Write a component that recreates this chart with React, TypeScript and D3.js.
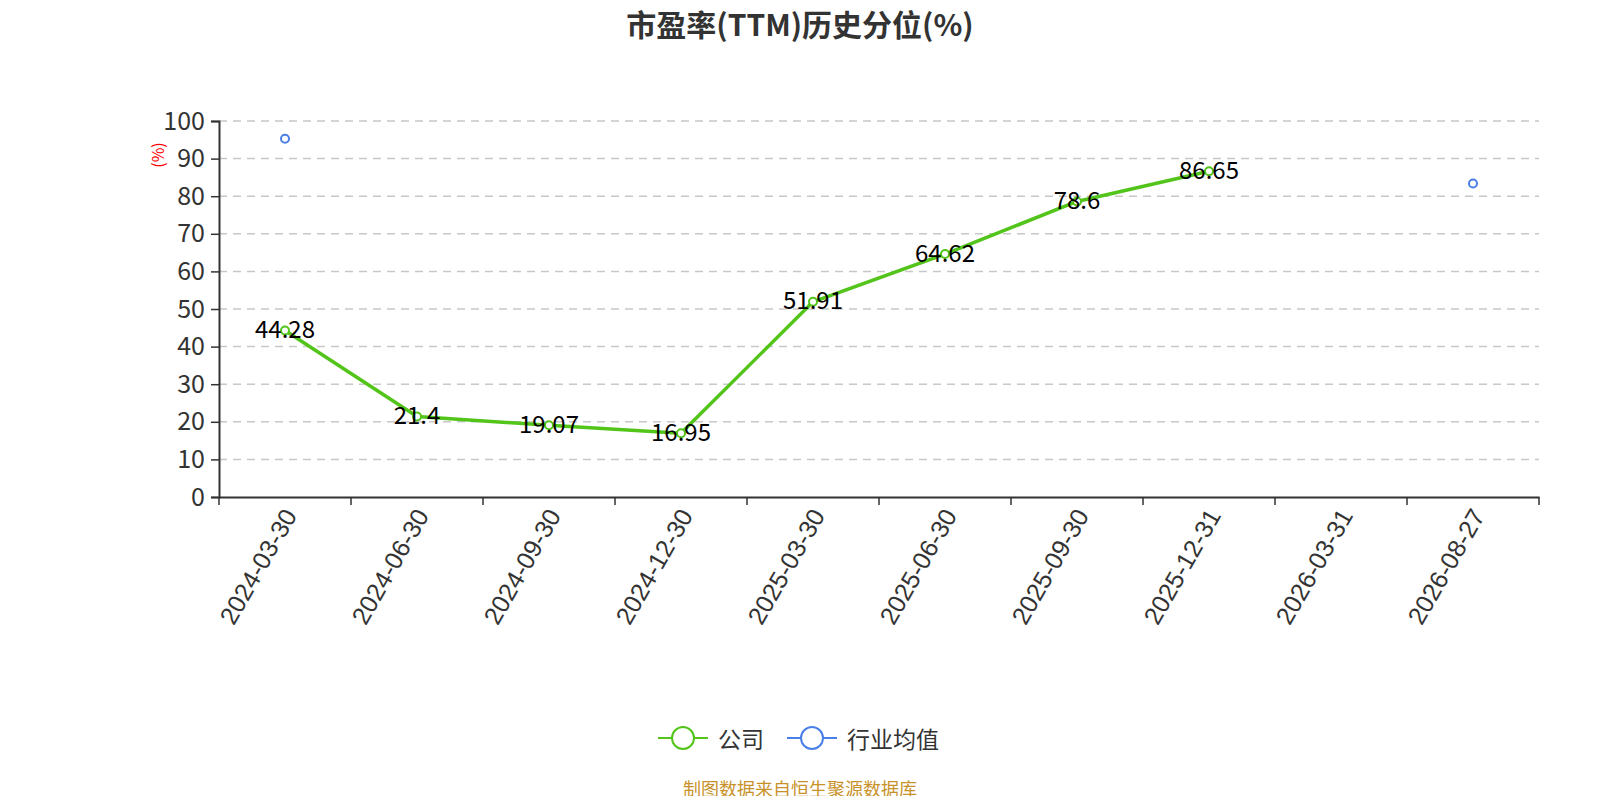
import { useEffect, useRef } from "react";
import * as d3 from "d3";

const categories = [
  "2024-03-30",
  "2024-06-30",
  "2024-09-30",
  "2024-12-30",
  "2025-03-30",
  "2025-06-30",
  "2025-09-30",
  "2025-12-31",
  "2026-03-31",
  "2026-08-27",
];
const companyValues: (number | null)[] = [44.28, 21.4, 19.07, 16.95, 51.91, 64.62, 78.6, 86.65, null, null];
const industryValues: (number | null)[] = [95.3, null, null, null, null, null, null, null, null, 83.4];
const yTicks = [0, 10, 20, 30, 40, 50, 60, 70, 80, 90, 100];

const GREEN = "#52c41a";
const BLUE = "#4a7fe8";
const FONT = "'Noto Sans CJK SC', 'Noto Sans', sans-serif";

export default function App() {
  const svgRef = useRef<SVGSVGElement>(null);

  useEffect(() => {
    if (!svgRef.current) return;
    const root = d3.select(svgRef.current);
    root.selectAll("*").remove();

    const width = 1600;
    const height = 800;
    const margin = { top: 121, right: 61, bottom: 303, left: 219 };
    const innerW = width - margin.left - margin.right;
    const innerH = height - margin.top - margin.bottom;

    root.attr("width", width).attr("height", height).style("font-family", FONT);

    // Title
    root
      .append("text")
      .attr("x", 800)
      .attr("y", 23)
      .attr("text-anchor", "middle")
      .attr("dominant-baseline", "central")
      .style("font-size", "30px")
      .style("font-weight", "bold")
      .attr("fill", "#333")
      .text("市盈率(TTM)历史分位(%)");

    const g = root.append("g").attr("transform", `translate(${margin.left},${margin.top})`);

    const x = d3.scaleBand().domain(categories).range([0, innerW]);
    const y = d3.scaleLinear().domain([0, 100]).range([innerH, 0]);
    const cx = (c: string) => (x(c) ?? 0) + x.bandwidth() / 2;

    // Grid lines
    g.append("g")
      .selectAll("line")
      .data(yTicks.filter((t) => t > 0))
      .enter()
      .append("line")
      .attr("x1", 0)
      .attr("x2", innerW)
      .attr("y1", (d) => y(d))
      .attr("y2", (d) => y(d))
      .attr("stroke", "#c8c8c8")
      .attr("stroke-width", 1.5)
      .attr("stroke-dasharray", "8,6");

    // Y axis
    const yAxis = g
      .append("g")
      .call(d3.axisLeft(y).tickValues(yTicks).tickSize(8).tickPadding(6).tickFormat(d3.format("d")));
    yAxis.select(".domain").attr("stroke", "#333").attr("stroke-width", 2);
    yAxis.selectAll(".tick line").attr("stroke", "#333").attr("stroke-width", 1.5);
    yAxis
      .selectAll(".tick text")
      .attr("fill", "#333")
      .style("font-size", "25px")
      .style("font-family", FONT);

    // Y axis name
    g.append("text")
      .attr("transform", `translate(${157 - margin.left},${155 - margin.top}) rotate(-90)`)
      .attr("text-anchor", "middle")
      .attr("dominant-baseline", "central")
      .attr("fill", "red")
      .style("font-size", "16px")
      .text("(%)");

    // X axis
    const xAxis = g
      .append("g")
      .attr("transform", `translate(0,${innerH})`)
      .call(d3.axisBottom(x).tickSize(0).tickFormat(() => ""));
    xAxis.select(".domain").attr("stroke", "#333").attr("stroke-width", 2);
    xAxis.selectAll(".tick").remove();

    // boundary ticks
    const boundaries = d3.range(categories.length + 1).map((i) => i * x.step());
    xAxis
      .selectAll("line.bt")
      .data(boundaries)
      .enter()
      .append("line")
      .attr("class", "bt")
      .attr("x1", (d) => d)
      .attr("x2", (d) => d)
      .attr("y1", 0)
      .attr("y2", 8)
      .attr("stroke", "#333")
      .attr("stroke-width", 1.5);

    xAxis
      .selectAll("text.xl")
      .data(categories)
      .enter()
      .append("text")
      .attr("class", "xl")
      .attr("transform", (d) => `translate(${cx(d) + 5},${14}) rotate(-60)`)
      .attr("text-anchor", "end")
      .attr("dominant-baseline", "central")
      .attr("fill", "#333")
      .style("font-size", "25px")
      .text((d) => d);

    // Company line
    const pts = categories
      .map((c, i) => ({ c, v: companyValues[i] }))
      .filter((d) => d.v !== null) as { c: string; v: number }[];
    const line = d3
      .line<{ c: string; v: number }>()
      .x((d) => cx(d.c))
      .y((d) => y(d.v));
    g.append("path")
      .datum(pts)
      .attr("d", line)
      .attr("fill", "none")
      .attr("stroke", GREEN)
      .attr("stroke-width", 3.5)
      .attr("stroke-linejoin", "round");
    g.selectAll("circle.cp")
      .data(pts)
      .enter()
      .append("circle")
      .attr("class", "cp")
      .attr("cx", (d) => cx(d.c))
      .attr("cy", (d) => y(d.v))
      .attr("r", 4)
      .attr("fill", "#fff")
      .attr("stroke", GREEN)
      .attr("stroke-width", 2);
    g.selectAll("text.cl")
      .data(pts)
      .enter()
      .append("text")
      .attr("class", "cl")
      .attr("x", (d) => cx(d.c))
      .attr("y", (d) => y(d.v) - 3)
      .attr("text-anchor", "middle")
      .attr("dominant-baseline", "central")
      .attr("fill", "#000")
      .style("font-size", "24px")
      .text((d) => String(d.v));

    // Industry points
    const ipts = categories
      .map((c, i) => ({ c, v: industryValues[i] }))
      .filter((d) => d.v !== null) as { c: string; v: number }[];
    g.selectAll("circle.ip")
      .data(ipts)
      .enter()
      .append("circle")
      .attr("class", "ip")
      .attr("cx", (d) => cx(d.c))
      .attr("cy", (d) => y(d.v))
      .attr("r", 4)
      .attr("fill", "#fff")
      .attr("stroke", BLUE)
      .attr("stroke-width", 2);

    // Legend
    const legend = [
      { name: "公司", color: GREEN, x: 658 },
      { name: "行业均值", color: BLUE, x: 787 },
    ];
    const lg = root.append("g").attr("transform", "translate(0,738)");
    legend.forEach((l) => {
      lg.append("line")
        .attr("x1", l.x)
        .attr("x2", l.x + 50)
        .attr("y1", 0)
        .attr("y2", 0)
        .attr("stroke", l.color)
        .attr("stroke-width", 2);
      lg.append("circle")
        .attr("cx", l.x + 25)
        .attr("cy", 0)
        .attr("r", 11)
        .attr("fill", "#fff")
        .attr("stroke", l.color)
        .attr("stroke-width", 2);
      lg.append("text")
        .attr("x", l.x + 60)
        .attr("y", 0)
        .attr("dominant-baseline", "central")
        .attr("fill", "#333")
        .style("font-size", "23px")
        .text(l.name);
    });

    // Footer
    root
      .append("text")
      .attr("x", 800)
      .attr("y", 788)
      .attr("text-anchor", "middle")
      .attr("dominant-baseline", "central")
      .attr("fill", "#c8922a")
      .style("font-size", "18px")
      .text("制图数据来自恒生聚源数据库");
  }, []);

  return (
    <div style={{ margin: "-8px" }}>
      <svg ref={svgRef}></svg>
    </div>
  );
}
